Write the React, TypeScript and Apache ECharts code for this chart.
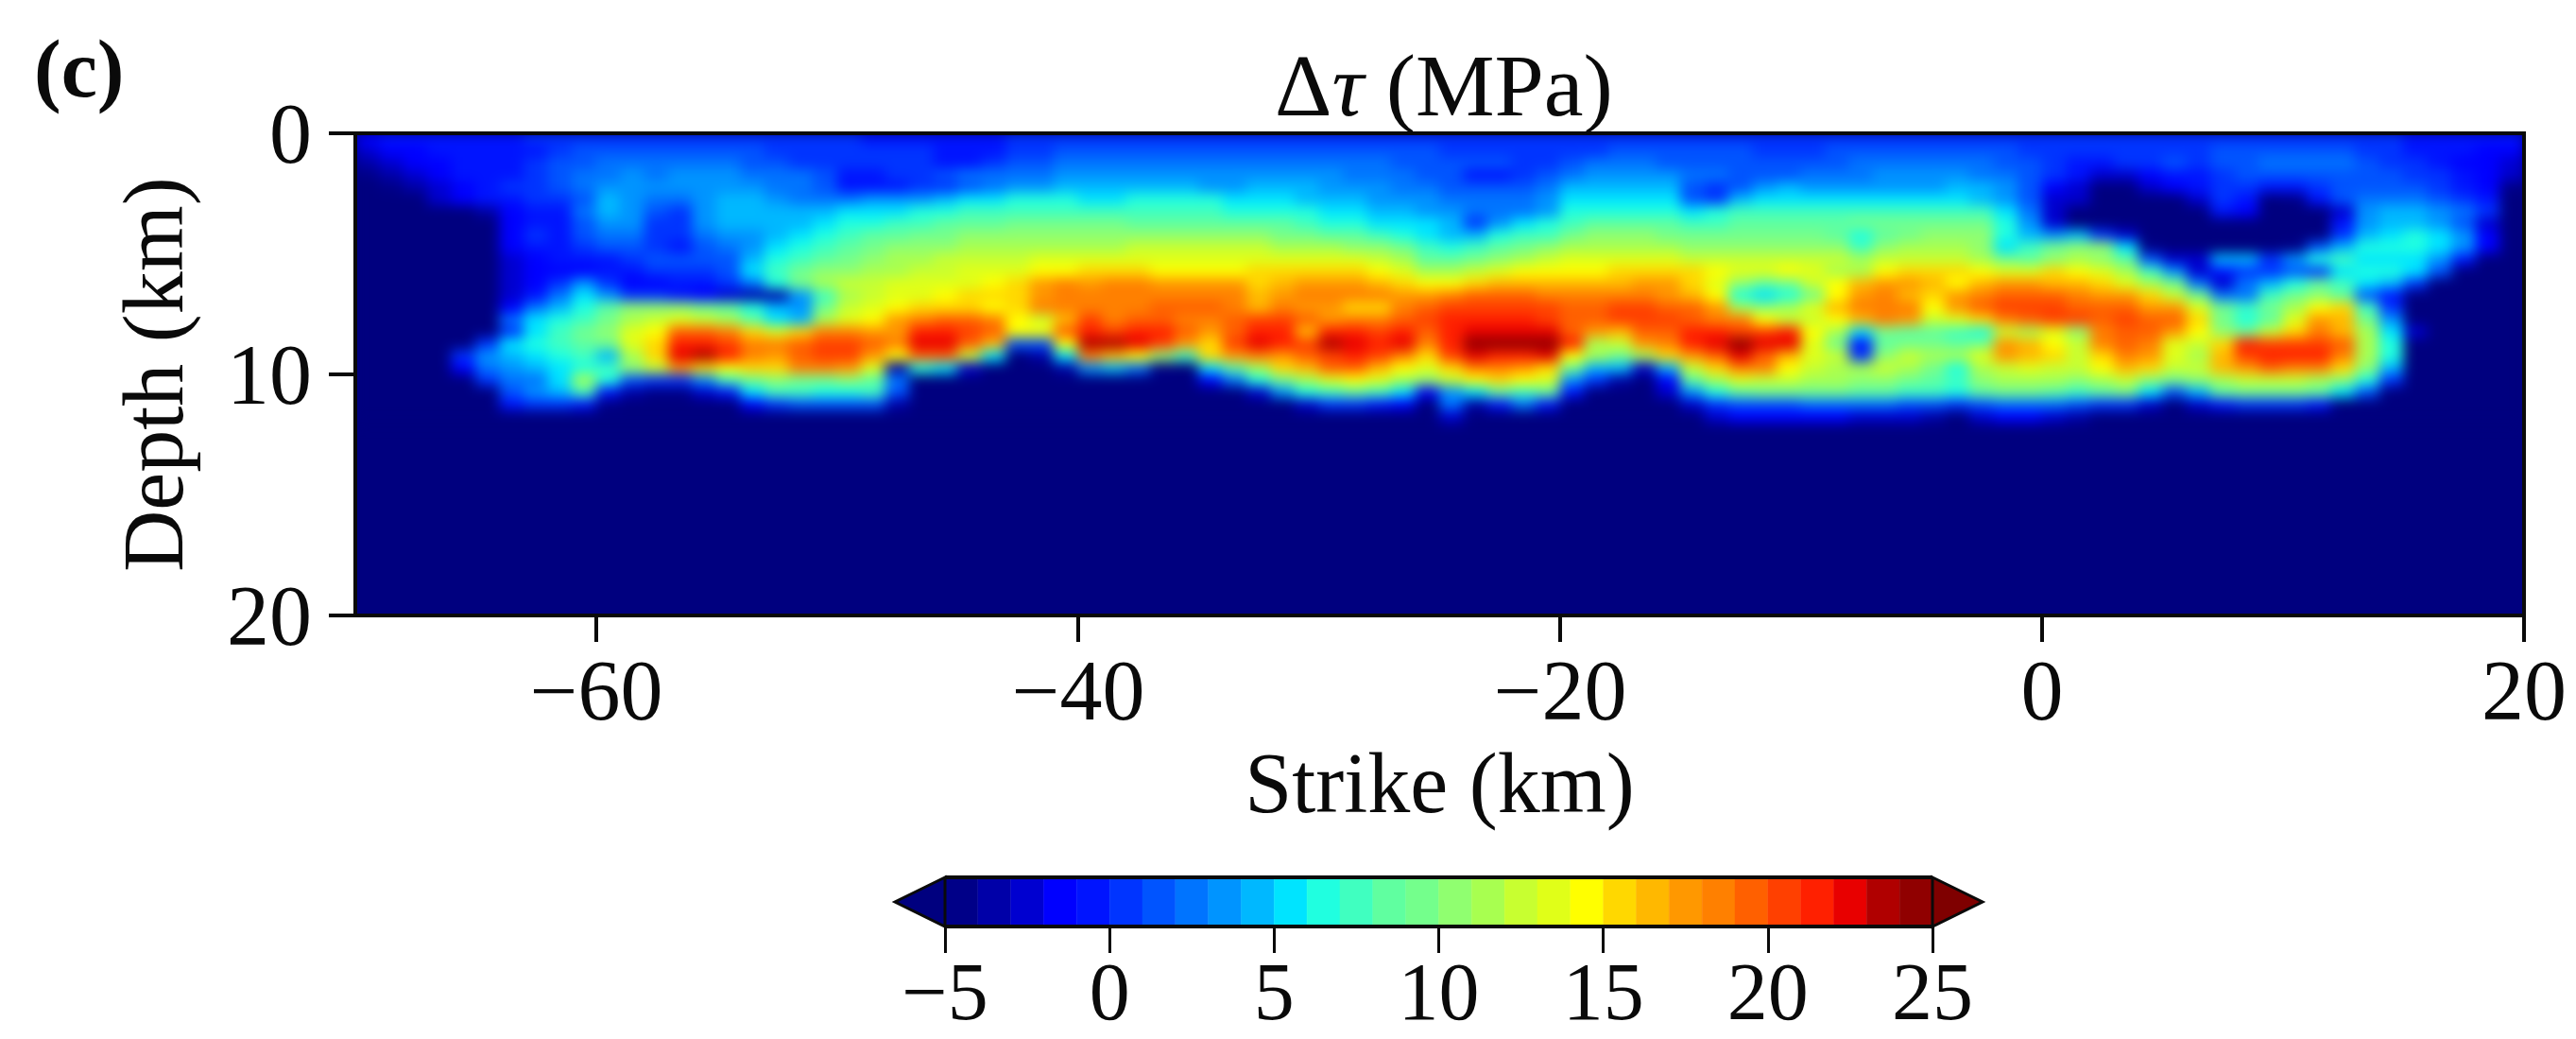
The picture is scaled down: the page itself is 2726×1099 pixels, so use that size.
import React, { useEffect, useRef } from "react";
import * as echarts from "echarts";

// ---- tick labels ----
const strikeTicks = [-60, -40, -20, 0, 20];
const barLevels = [-5,-4,-3,-2,-1,0,1,2,3,4,5,6,7,8,9,10,11,12,13,14,15,16,17,18,19,20,21,22,23,24];
const barColors = ["#000088","#0000a8","#0000d0","#0000ff","#0014ff","#0034ff","#0054ff","#0074ff","#0094ff","#00b8ff","#00e4ff","#20ffe0","#40ffc0","#60ffa0","#74ff8c","#90ff70","#a8ff50","#c8ff30","#e0ff18","#ffff00","#ffd800","#ffb800","#ff9800","#ff8000","#ff6000","#ff4000","#ff2000","#e80000","#b00000","#900000"];
const belowColor = "#00007f";
const aboveColor = "#7f0000";

// ---- Δτ (MPa) per strike column (-70 … 19 km), one list per 0.5 km of depth ----
const d00 = [-2,-1,-1,-1,-1,-1,-1,0,0,0, 0,0,0,0,0,0,0,0,0,0, 0,-1,-1,-1,-1,-1,-1,0,0,0, 0,0,0,0,0,0,0,0,0,0, 0,0,0,0,0,0,0,0,0,0, 0,0,0,0,0,0,0,0,0,0, 0,0,0,0,0,0,0,0,0,0, 0,0,0,0,0,0,0,0,0,0, 0,0,0,0,0,-1,-1,-1,-1,-1];
const d05 = [-3,-2,-2,-1,-1,-1,-1,-1,0,1, 1,1,1,1,1,1,1,0,0,0, 0,0,0,0,-1,-1,-1,0,0,1, 1,1,1,1,1,1,1,1,1,1, 1,1,1,1,1,0,0,0,0,0, 0,0,1,1,1,1,1,1,0,0, 0,1,1,1,1,1,1,1,1,0, 0,0,0,0,0,0,0,1,1,1, 1,1,1,0,0,-1,-1,-1,-2,-2];
const d10 = [-4,-3,-2,-2,-1,-1,-1,0,1,1, 2,2,2,2,2,2,1,1,0,0, 0,0,0,0,-1,-1,0,1,1,2, 2,2,2,2,2,2,2,2,2,2, 2,2,2,1,1,1,1,1,0,0, 1,2,2,2,1,1,1,1,1,1, 1,1,2,2,2,2,2,2,1,1, 0,-1,-1,0,0,1,0,1,1,2, 2,2,2,1,0,0,-1,-2,-2,-3];
const d15 = [-5,-4,-3,-2,-1,-1,-1,0,1,2, 2,3,2,3,3,3,2,2,2,1, -1,-1,0,0,1,2,2,2,2,3, 3,3,3,3,3,3,3,3,3,3, 3,2,2,2,1,1,-1,-1,0,1, 2,3,3,3,3,2,2,1,1,1, 2,2,2,3,3,3,3,2,2,1, 0,-1,-3,-3,-2,-1,-1,0,1,1, 1,1,1,1,1,0,0,-1,-2,-3];
const d20 = [-6,-5,-4,-3,-2,-1,0,0,1,2, 3,3,3,3,3,3,3,2,2,1, -1,-1,-1,0,0,1,2,3,3,4, 4,4,4,4,4,3,3,4,4,4, 3,3,3,2,2,1,1,1,1,2, 4,4,4,4,4,1,0,1,3,4, 3,3,3,3,3,3,4,4,3,1, -2,-3,-6,-6,-3,-2,-1,0,0,-1, -1,0,1,1,1,1,0,-1,-2,-5];
const d25 = [-6,-6,-6,-3,-2,-1,-1,0,0,1, 4,3,2,2,3,4,4,3,2,2, 2,3,3,3,4,5,5,6,6,6, 5,5,6,6,6,6,5,5,5,4, 4,4,3,3,3,2,2,2,2,3, 5,5,5,5,5,1,0,4,5,5, 5,5,5,5,5,5,5,4,3,1, -3,-3,-6,-6,-6,-6,-3,0,-1,-6, -5,-1,1,2,2,2,1,0,-1,-6];
const d30 = [-6,-6,-6,-6,-6,-4,-2,-1,-1,2, 4,3,1,0,3,4,4,4,4,4, 5,5,5,6,6,7,7,7,7,7, 7,7,7,7,7,7,6,6,6,6, 5,5,4,4,3,3,2,2,2,3, 6,6,6,6,6,5,6,7,7,7, 7,7,7,7,7,7,7,7,5,2, -3,-6,-6,-6,-6,-6,-6,-1,-2,-6, -6,-6,-3,3,4,4,3,2,0,-6];
const d35 = [-6,-6,-6,-6,-6,-6,-2,-1,-1,1, 3,3,0,0,3,4,4,4,4,5, 6,6,7,7,8,8,8,9,9,9, 9,9,8,8,8,8,8,8,8,7, 6,6,5,5,5,4,0,3,5,6, 7,8,8,8,8,7,7,8,8,8, 8,8,9,9,9,9,9,9,6,3, -3,-6,-6,-6,-6,-6,-6,-6,-6,-6, -6,-6,-1,3,4,4,3,1,-3,-6];
const d40 = [-6,-6,-6,-6,-6,-6,-2,0,-1,1, 2,2,0,0,2,3,3,4,5,6, 7,8,8,9,9,10,10,10,10,10, 10,10,10,10,10,10,10,10,9,9, 8,8,7,6,5,4,4,6,7,7, 9,10,10,10,9,9,9,9,9,9, 9,8,6,8,9,10,10,10,6,4, 3,4,0,-3,-6,-6,-6,-6,-6,-6, -6,-6,0,4,5,6,5,3,-2,-6];
const d45 = [-6,-6,-6,-6,-6,-6,-2,-1,-1,0, 1,1,0,-1,1,2,3,5,6,7, 8,9,10,10,10,11,11,11,11,11, 11,11,12,12,12,12,12,12,11,11, 11,10,10,9,7,6,7,8,9,10, 11,11,11,11,11,10,10,10,10,10, 10,10,7,10,11,11,11,10,5,7, 9,10,10,5,-5,-6,-6,-6,-6,-6, -5,1,4,6,6,6,5,3,-2,-6];
const d50 = [-6,-6,-6,-6,-6,-6,-3,-2,-1,-1, -1,0,1,1,1,1,4,6,7,8, 9,10,11,11,12,12,12,12,13,13, 13,13,13,13,13,13,13,13,13,13, 13,13,12,11,8,8,9,10,11,12, 13,13,13,13,13,12,12,12,12,12, 12,12,11,12,12,12,12,11,9,8, 10,11,10,8,1,-3,-3,4,4,0, 3,6,7,5,5,5,3,-1,-6,-6];
const d55 = [-6,-6,-6,-6,-6,-6,-3,-2,-2,-2, -1,-1,0,0,0,1,5,7,9,10, 10,11,11,12,12,13,13,13,14,14, 15,15,15,14,14,14,14,15,15,15, 15,15,14,13,11,11,12,13,14,14, 14,14,15,15,15,15,14,13,13,14, 13,11,11,14,15,15,15,14,13,13, 15,14,13,11,7,3,-3,-1,0,0, 1,0,5,6,6,5,1,-6,-6,-6];
const d60 = [-6,-6,-6,-6,-6,-6,-3,-2,0,3, 0,-2,-2,-1,-1,0,2,6,9,11, 12,12,13,13,13,13,14,15,17,18, 17,18,18,17,17,17,17,15,16,17, 17,17,16,15,14,14,15,16,16,16, 16,16,16,17,17,15,13,10,8,9, 12,14,16,17,17,16,14,16,17,17, 16,16,15,13,11,9,2,-3,2,4, 6,8,7,5,4,0,-6,-6,-6,-6];
const d65 = [-6,-6,-6,-6,-6,-6,-3,-1,2,5, 3,0,0,-1,-2,-3,-4,-4,3,7, 11,12,13,13,14,15,15,15,17,18, 18,18,18,18,18,18,18,16,17,18, 18,18,18,17,17,18,19,19,19,18, 18,18,18,18,17,16,14,6,5,6, 9,14,17,18,16,15,17,18,19,19, 19,18,17,17,15,12,9,2,2,7, 9,10,8,1,-1,-6,-6,-6,-6,-6];
const d70 = [-6,-6,-6,-6,-6,-6,-2,2,4,6, 8,10,10,10,9,8,6,4,3,9, 12,13,14,15,15,15,14,15,18,18, 18,18,18,19,19,19,18,16,18,17, 17,15,15,18,19,20,20,20,20,20, 19,19,20,20,19,19,17,11,10,11, 13,16,18,18,18,14,17,19,20,20, 20,19,19,19,17,17,13,9,7,9, 11,14,15,7,0,-6,-6,-6,-6,-6];
const d75 = [-6,-6,-6,-6,-6,-6,2,5,6,7, 9,11,12,13,12,11,8,5,4,11, 13,14,17,18,19,19,18,14,12,16, 20,18,19,19,18,18,19,20,20,19, 17,18,18,19,20,21,21,21,21,20, 19,19,20,20,20,19,18,18,14,12, 12,14,16,18,17,12,13,15,18,19, 20,20,19,20,19,19,15,9,6,8, 13,17,16,9,3,-6,-6,-6,-6,-6];
const d80 = [-6,-6,-6,-6,-6,-6,0,5,7,9, 10,13,14,19,19,18,15,13,15,18, 18,17,17,21,21,20,19,14,14,19, 21,20,21,21,19,17,19,21,21,16, 21,21,20,21,19,21,22,22,22,22, 19,17,16,19,19,21,21,20,20,21, 14,11,5,9,8,8,7,6,12,11, 13,10,18,19,19,17,14,10,9,12, 15,18,16,11,5,-3,-6,-6,-6,-6];
const d85 = [-6,-6,-6,-6,-6,0,5,6,7,8, 9,13,15,21,21,20,18,18,19,20, 20,19,18,22,22,19,16,1,1,14, 23,23,22,20,17,15,20,22,21,20, 23,22,21,22,18,21,24,24,24,24, 21,11,12,17,18,21,22,24,22,22, 13,9,-1,8,9,9,8,9,17,16, 14,12,18,19,18,13,12,15,21,20, 20,20,19,11,6,-6,-6,-6,-6,-6];
const d90 = [-6,-6,-6,-6,0,3,4,5,6,7, 4,11,15,22,23,21,18,17,19,20, 20,17,14,19,19,12,5,-6,-4,5, 18,16,14,10,7,15,17,18,17,19, 20,21,20,18,15,20,22,21,21,22, 14,11,9,11,15,17,19,22,19,16, 13,12,0,10,12,11,11,13,17,16, 15,12,15,18,17,13,11,16,20,21, 21,21,18,11,6,-6,-6,-6,-6,-6];
const d95 = [-6,-6,-6,-6,-2,2,3,4,5,6, 7,10,12,17,15,14,15,15,18,18, 17,13,-4,6,5,-3,-6,-6,-6,-4, 3,4,2,-5,-6,5,8,11,15,16, 19,19,16,14,13,15,18,18,17,15, 9,4,4,-3,4,12,15,18,18,14, 12,11,11,12,11,9,6,11,12,13, 12,12,14,16,15,12,12,16,17,19, 18,18,15,10,4,-6,-6,-6,-6,-6];
const d100 = [-6,-6,-6,-6,-6,0,2,2,5,11, 6,1,0,0,3,7,9,10,9,9, 10,8,2,-6,-6,-6,-6,-6,-6,-6, -6,-6,-6,-6,-6,-2,2,6,9,11, 13,14,13,11,10,12,14,15,14,13, 3,0,-4,-6,-2,8,11,13,12,12, 11,11,10,10,9,8,7,10,11,11, 11,10,11,12,10,9,10,11,12,12, 12,11,10,6,0,-6,-6,-6,-6,-6];
const d105 = [-6,-6,-6,-6,-6,-6,1,3,4,7, -1,-4,-5,-5,-3,-1,5,7,7,6, 6,7,1,-6,-6,-6,-6,-6,-6,-6, -6,-6,-6,-6,-6,-6,-6,-3,3,6, 7,8,7,5,-2,3,5,8,7,8, -1,-6,-6,-6,-3,3,6,8,9,9, 9,9,8,8,7,7,6,8,9,9, 8,7,8,9,5,1,4,8,9,9, 9,8,5,1,-6,-6,-6,-6,-6,-6];
const d110 = [-6,-6,-6,-6,-6,-6,-1,0,0,-1, -5,-6,-6,-6,-6,-6,-2,0,1,1, 1,1,-4,-6,-6,-6,-6,-6,-6,-6, -6,-6,-6,-6,-6,-6,-6,-6,-6,-3, 0,0,-1,-2,-6,2,-4,-1,2,-1, -6,-6,-6,-6,-6,-3,0,1,1,1, 2,2,2,2,1,1,0,1,2,2, 2,1,0,0,-3,-6,-3,-1,0,0, 0,-1,-6,-6,-6,-6,-6,-6,-6,-6];
const d115 = [-6,-6,-6,-6,-6,-6,-6,-6,-6,-6, -6,-6,-6,-6,-6,-6,-6,-6,-6,-6, -6,-6,-6,-6,-6,-6,-6,-6,-6,-6, -6,-6,-6,-6,-6,-6,-6,-6,-6,-6, -6,-6,-6,-6,-6,-3,-6,-6,-6,-6, -6,-6,-6,-6,-6,-6,-3,-2,-2,-2, -2,-2,-3,-3,-3,-4,-6,-3,-2,-2, -3,-4,-6,-6,-6,-6,-6,-6,-6,-6, -6,-6,-6,-6,-6,-6,-6,-6,-6,-6];
const depthRows = [d00,d05,d10,d15,d20,d25,d30,d35,d40,d45,d50,d55,d60,d65,d70,d75,d80,d85,d90,d95,d100,d105,d110,d115];

const FONT = '"Liberation Serif", "Times New Roman", serif';
const W = 2726, H = 1099;
const PLOT = { left: 376, top: 141, width: 2295, height: 510 };
const CELL_X = 1, CELL_Y = 0.5;
const X_MIN = -70, X_MAX = 20, Y_MAX = 20;
const INK = "#0a0a0a";
const minus = (v: number) => String(v).replace("-", "\u2212");

const colorOf = (v: number) => {
  const i = Math.floor(v + 5);
  if (i < 0) return belowColor;
  if (i >= barColors.length) return aboveColor;
  return barColors[i];
};

const cells: number[][] = [];
depthRows.forEach((row, r) => row.forEach((v, c) => cells.push([X_MIN + c * CELL_X, r * CELL_Y, v])));

export default function App() {
  const heatRef = useRef<HTMLDivElement>(null);
  const chartRef = useRef<HTMLDivElement>(null);

  useEffect(() => {
    document.body.style.margin = "0";
    document.body.style.background = "#fff";
    const heat = echarts.init(heatRef.current!, undefined, { renderer: "svg" });
    heat.setOption({
      animation: false,
      grid: { left: 0, right: 0, top: 0, bottom: 0, outerBoundsMode: "none" },
      xAxis: { type: "value", min: X_MIN, max: X_MAX, show: false },
      yAxis: { type: "value", min: 0, max: Y_MAX, inverse: true, show: false },
      series: [{
        type: "custom",
        coordinateSystem: "cartesian2d",
        data: cells,
        encode: { x: 0, y: 1 },
        clip: false,
        silent: true,
        renderItem: (_p: any, api: any) => {
          const a = api.coord([api.value(0), api.value(1)]);
          const b = api.coord([api.value(0) + CELL_X, api.value(1) + CELL_Y]);
          const c = colorOf(api.value(2));
          return { type: "rect", shape: { x: a[0], y: a[1], width: b[0] - a[0], height: b[1] - a[1] }, style: { fill: c, stroke: c, lineWidth: 1 } };
        },
      }],
    });

    const chart = echarts.init(chartRef.current!, undefined, { renderer: "svg" });
    const label = { fontFamily: FONT, fontSize: 90, color: INK, fontWeight: "normal" };
    const capReach = 1.52;
    chart.setOption({
      animation: false,
      textStyle: { fontFamily: FONT },
      title: {
        text: "{a|\u0394}{i|\u03C4}{a| (MPa)}",
        left: 1523, top: 38, textAlign: "center",
        textStyle: { fontWeight: "normal", rich: { a: { fontFamily: FONT, fontSize: 94, color: INK, fontWeight: "normal" }, i: { fontFamily: FONT, fontSize: 94, fontStyle: "italic", fontWeight: "normal", color: INK } } },
      },
      graphic: [{ type: "text", left: 36, top: 30, style: { text: "(c)", font: `bold 86px ${FONT}`, fill: INK } }],
      grid: [
        { left: PLOT.left, top: PLOT.top, width: PLOT.width, height: PLOT.height, outerBoundsMode: "none", show: true, borderColor: INK, borderWidth: 4, backgroundColor: "transparent" },
        { left: 1000, top: 928, width: 1045, height: 52, outerBoundsMode: "none" },
      ],
      xAxis: [
        {
          gridIndex: 0, type: "value", min: X_MIN, max: X_MAX, position: "bottom",
          name: "Strike (km)", nameLocation: "middle", nameGap: 132, nameTextStyle: label,
          axisLine: { show: true, onZero: false, lineStyle: { color: INK, width: 4 } },
          axisTick: { show: true, length: 28, customValues: strikeTicks, lineStyle: { color: INK, width: 4 } },
          axisLabel: { ...label, margin: 34, customValues: strikeTicks, formatter: minus },
          splitLine: { show: false },
        },
        {
          gridIndex: 1, type: "value", min: -5, max: 25, interval: 5, position: "bottom",
          axisLine: { show: false },
          axisTick: { show: true, length: 28, lineStyle: { color: INK, width: 3 } },
          axisLabel: { ...label, fontSize: 86, lineHeight: 66, margin: 36, formatter: minus },
          splitLine: { show: false },
        },
      ],
      yAxis: [
        {
          gridIndex: 0, type: "value", min: 0, max: Y_MAX, interval: 10, inverse: true,
          name: "Depth (km)", nameLocation: "middle", nameGap: 169, nameRotate: 90, nameTextStyle: label,
          axisLine: { show: true, onZero: false, lineStyle: { color: INK, width: 4 } },
          axisTick: { show: true, length: 28, lineStyle: { color: INK, width: 4 } },
          axisLabel: { ...label, margin: 46, formatter: minus },
          splitLine: { show: false },
        },
        { gridIndex: 1, type: "value", min: 0, max: 1, show: false },
      ],
      series: [
        {
          type: "custom", xAxisIndex: 1, yAxisIndex: 1, silent: true, clip: false,
          data: barLevels.map((v) => [v, v + 1]), encode: { x: [0, 1] },
          renderItem: (_p: any, api: any) => {
            const a = api.coord([api.value(0), 1]);
            const b = api.coord([api.value(1), 0]);
            const c = colorOf(api.value(0));
            return { type: "rect", shape: { x: a[0], y: a[1], width: b[0] - a[0], height: b[1] - a[1] }, style: { fill: c, stroke: c, lineWidth: 0.5 } };
          },
        },
        {
          type: "custom", xAxisIndex: 1, yAxisIndex: 1, silent: true, clip: false,
          data: [[-5, -1], [25, 1]], encode: { x: 0 }, z: 3,
          renderItem: (_p: any, api: any) => {
            const edge = api.value(0), dir = api.value(1);
            const pts = [api.coord([edge, 1]), api.coord([edge + dir * capReach, 0.5]), api.coord([edge, 0])];
            return { type: "polygon", shape: { points: pts }, style: { fill: dir < 0 ? belowColor : aboveColor, stroke: INK, lineWidth: 3 } };
          },
        },
        {
          type: "custom", xAxisIndex: 1, yAxisIndex: 1, silent: true, clip: false,
          data: [[-5, 25]], encode: { x: [0, 1] }, z: 4,
          renderItem: (_p: any, api: any) => {
            const a = api.coord([api.value(0), 1]);
            const b = api.coord([api.value(1), 0]);
            return {
              type: "group",
              children: [
                { type: "line", shape: { x1: a[0], y1: a[1], x2: b[0], y2: a[1] }, style: { stroke: INK, lineWidth: 4 } },
                { type: "line", shape: { x1: a[0], y1: b[1], x2: b[0], y2: b[1] }, style: { stroke: INK, lineWidth: 4 } },
              ],
            };
          },
        },
      ],
    });
    return () => { heat.dispose(); chart.dispose(); };
  }, []);

  return (
    <div style={{ position: "fixed", left: 0, top: 0, width: W, height: H, background: "#fff", overflow: "hidden" }}>
      <div style={{ position: "absolute", left: PLOT.left, top: PLOT.top, width: PLOT.width, height: PLOT.height, overflow: "hidden", background: belowColor }}>
        <div ref={heatRef} style={{ width: PLOT.width, height: PLOT.height, filter: "blur(7px)" }} />
      </div>
      <div ref={chartRef} style={{ position: "absolute", left: 0, top: 0, width: W, height: H }} />
    </div>
  );
}
